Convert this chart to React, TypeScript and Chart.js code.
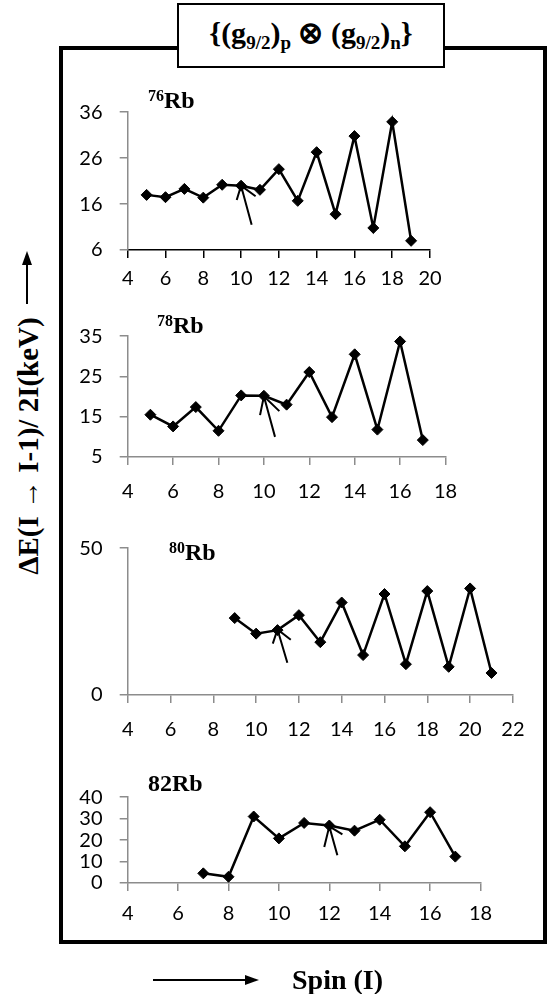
import React, { useEffect, useRef } from "react";
import { Chart, registerables } from "chart.js";

Chart.register(...registerables);

// ---------- DATA ----------
const spins76 = [5, 6, 7, 8, 9, 10, 11, 12, 13, 14, 15, 16, 17, 18, 19];
const rb76 = [18.0, 17.5, 19.3, 17.4, 20.2, 20.0, 19.1, 23.6, 16.7, 27.3, 13.8, 30.8, 10.8, 33.9, 8.0];
const yTicks76 = [6, 16, 26, 36];
const xTicks76 = [4, 6, 8, 10, 12, 14, 16, 18, 20];
const arrow76X = [9.77, 10.0, 10.77, 10.0, 10.56];
const arrow76Y = [16.9, 20.0, 17.7, 20.0, 11.5];

const spins78 = [5, 6, 7, 8, 9, 10, 11, 12, 13, 14, 15, 16, 17];
const rb78 = [15.5, 12.6, 17.4, 11.5, 20.3, 20.2, 18.0, 26.1, 14.9, 30.5, 11.8, 33.7, 9.2];
const yTicks78 = [5, 15, 25, 35];
const xTicks78 = [4, 6, 8, 10, 12, 14, 16, 18];
const arrow78X = [9.83, 10.0, 10.68, 10.0, 10.49];
const arrow78Y = [15.4, 20.1, 16.4, 20.1, 10.0];

const spins80 = [9, 10, 11, 12, 13, 14, 15, 16, 17, 18, 19, 20, 21];
const rb80 = [26.2, 20.9, 22.1, 27.2, 18.0, 31.5, 13.6, 34.4, 10.5, 35.4, 9.6, 36.3, 7.5];
const yTicks80 = [0, 50];
const xTicks80 = [4, 6, 8, 10, 12, 14, 16, 18, 20, 22];
const arrow80X = [10.78, 11.0, 11.62, 11.0, 11.46];
const arrow80Y = [17.5, 22.3, 18.8, 22.3, 11.0];

const spins82 = [7, 8, 9, 10, 11, 12, 13, 14, 15, 16, 17];
const rb82 = [4.5, 2.9, 31.0, 20.8, 28.0, 26.8, 24.4, 29.5, 17.1, 33.0, 12.3];
const yTicks82 = [0, 10, 20, 30, 40];
const xTicks82 = [4, 6, 8, 10, 12, 14, 16, 18];
const arrow82X = [11.8, 12.0, 12.52, 12.0, 12.32];
const arrow82Y = [16.8, 26.4, 22.7, 26.4, 12.9];

// ---------- LAYOUT ----------
type PanelDef = {
  spins: number[];
  values: number[];
  xTicks: number[];
  yTicks: number[];
  arrowX: number[];
  arrowY: number[];
  area: { left: number; right: number; top: number; bottom: number };
  labelGap: number;
  xColor: string;
};

const panels: PanelDef[] = [
  { spins: spins76, values: rb76, xTicks: xTicks76, yTicks: yTicks76, arrowX: arrow76X, arrowY: arrow76Y,
    area: { left: 127.7, right: 430, top: 96.7, bottom: 250 }, labelGap: 29, xColor: "#000" },
  { spins: spins78, values: rb78, xTicks: xTicks78, yTicks: yTicks78, arrowX: arrow78X, arrowY: arrow78Y,
    area: { left: 127.7, right: 445.5, top: 320.7, bottom: 456.7 }, labelGap: 35, xColor: "#8c8c8c" },
  { spins: spins80, values: rb80, xTicks: xTicks80, yTicks: yTicks80, arrowX: arrow80X, arrowY: arrow80Y,
    area: { left: 127.7, right: 512.9, top: 532.7, bottom: 695 }, labelGap: 35, xColor: "#8c8c8c" },
  { spins: spins82, values: rb82, xTicks: xTicks82, yTicks: yTicks82, arrowX: arrow82X, arrowY: arrow82Y,
    area: { left: 127.7, right: 480.5, top: 782.3, bottom: 883.3 }, labelGap: 31, xColor: "#8c8c8c" },
];

const CANVAS_LEFT = 64;
const CANVAS_RIGHT = 542;
const PAD_TOP = 14;
const X_AXIS_H = 52;
const TICK_LEN = 8;
const TICK_FONT = 20;
const Y_GRAY = "#8c8c8c";

function PanelChart({ p }: { p: PanelDef }) {
  const ref = useRef<HTMLCanvasElement>(null);
  const top = p.area.top - PAD_TOP;
  const W = CANVAS_RIGHT - CANVAS_LEFT;
  const H = p.area.bottom + X_AXIS_H - top;

  useEffect(() => {
    if (!ref.current) return;
    const xPad = p.labelGap - TICK_LEN - (TICK_FONT * 1.2) / 2;
    const chart = new Chart(ref.current, {
      type: "line",
      data: {
        datasets: [
          {
            data: p.spins.map((s, i) => ({ x: s, y: p.values[i] })),
            borderColor: "#000",
            backgroundColor: "#000",
            borderWidth: 2.5,
            pointStyle: "rectRot",
            pointRadius: 5.5,
            pointBorderWidth: 1,
            pointBackgroundColor: "#000",
            pointBorderColor: "#000",
            tension: 0,
            clip: false as any,
          },
          {
            data: p.arrowX.map((x, i) => ({ x, y: p.arrowY[i] })),
            borderColor: "#000",
            borderWidth: 2,
            pointRadius: 0,
            tension: 0,
            clip: false as any,
          },
        ],
      },
      options: {
        responsive: false,
        animation: false,
        devicePixelRatio: 1,
        events: [],
        layout: {
          padding: { top: PAD_TOP, right: CANVAS_RIGHT - p.area.right, left: 0, bottom: 0 },
        },
        plugins: { legend: { display: false }, tooltip: { enabled: false } },
        scales: {
          x: {
            type: "linear",
            min: p.xTicks[0],
            max: p.xTicks[p.xTicks.length - 1],
            afterBuildTicks: (s: any) => {
              s.ticks = p.xTicks.map((v) => ({ value: v }));
            },
            afterFit: (s: any) => {
              s.height = X_AXIS_H;
            },
            grid: { drawOnChartArea: false, drawTicks: true, tickLength: TICK_LEN, color: p.xColor, lineWidth: 1.5 },
            border: { display: true, color: p.xColor, width: 1.5 },
            ticks: {
              font: { family: "Lato", size: TICK_FONT },
              color: "#000",
              padding: xPad,
              maxRotation: 0,
              autoSkip: false,
            },
          },
          y: {
            type: "linear",
            min: p.yTicks[0],
            max: p.yTicks[p.yTicks.length - 1],
            afterBuildTicks: (s: any) => {
              s.ticks = p.yTicks.map((v) => ({ value: v }));
            },
            afterFit: (s: any) => {
              s.width = p.area.left - CANVAS_LEFT;
            },
            grid: { drawOnChartArea: false, drawTicks: true, tickLength: TICK_LEN, color: Y_GRAY, lineWidth: 1.5 },
            border: { display: true, color: Y_GRAY, width: 1.5 },
            ticks: {
              font: { family: "Lato", size: TICK_FONT },
              color: "#000",
              padding: p.area.left - TICK_LEN - 102.5,
              autoSkip: false,
            },
          },
        },
      } as any,
    });
    return () => chart.destroy();
  }, []);

  return (
    <canvas
      ref={ref}
      width={W}
      height={H}
      style={{ position: "absolute", left: CANVAS_LEFT, top, width: W, height: H }}
    />
  );
}

const serif = "'Liberation Serif', 'Times New Roman', serif";

function Iso({ mass, left, top, sup = true }: { mass: string; left: number; top: number; sup?: boolean }) {
  return (
    <div
      style={{
        position: "absolute",
        left,
        top,
        fontFamily: serif,
        fontWeight: "bold",
        fontSize: 24,
        lineHeight: "24px",
        whiteSpace: "nowrap",
        color: "#000",
      }}
    >
      {sup ? (
        <span style={{ fontSize: 16, position: "relative", top: -7 }}>{mass}</span>
      ) : (
        <span>{mass}</span>
      )}
      Rb
    </div>
  );
}

const subStyle: React.CSSProperties = { fontSize: 19, position: "relative", top: 6 };

export default function App() {
  return (
    <div style={{ position: "absolute", left: 0, top: 0, width: 548, height: 994, background: "#fff", overflow: "hidden" }}>
      {/* outer frame */}
      <div
        style={{
          position: "absolute",
          left: 59,
          top: 46,
          width: 488,
          height: 898,
          border: "4px solid #000",
          boxSizing: "border-box",
        }}
      />
      {panels.map((p, i) => (
        <PanelChart key={i} p={p} />
      ))}
      <Iso mass="76" left={148} top={88} />
      <Iso mass="78" left={157} top={313} />
      <Iso mass="80" left={169} top={540} />
      <Iso mass="82" left={148} top={771} sup={false} />

      {/* title box */}
      <div
        style={{
          position: "absolute",
          left: 177,
          top: 3,
          width: 268,
          height: 65,
          border: "2px solid #000",
          boxSizing: "border-box",
          background: "#fff",
          display: "flex",
          alignItems: "center",
          justifyContent: "center",
          fontFamily: serif,
          fontWeight: "bold",
          fontSize: 30,
          whiteSpace: "nowrap",
          color: "#000",
        }}
      >
        <span style={{ position: "relative", top: -3 }}>
          {"{(g"}
          <span style={subStyle}>9/2</span>
          {")"}
          <span style={subStyle}>p</span>
          {" \u2297 (g"}
          <span style={subStyle}>9/2</span>
          {")"}
          <span style={subStyle}>n</span>
          {"}"}
        </span>
      </div>

      {/* y label */}
      <div
        style={{
          position: "absolute",
          left: 28,
          top: 446,
          transform: "translate(-50%, -50%) rotate(-90deg)",
          fontFamily: serif,
          fontWeight: "bold",
          fontSize: 29,
          whiteSpace: "nowrap",
          color: "#000",
        }}
      >
        {"\u0394E(I \u2192 I-1)/ 2I(keV)"}
      </div>

      {/* arrows */}
      <svg width={548} height={994} style={{ position: "absolute", left: 0, top: 0, pointerEvents: "none" }}>
        <line x1={27} y1={304} x2={27} y2={262} stroke="#000" strokeWidth={2} />
        <polygon points="27,251 22,265 32,265" fill="#000" />
        <line x1={153} y1={980} x2={248} y2={980} stroke="#000" strokeWidth={2} />
        <polygon points="259,980 245,975 245,985" fill="#000" />
      </svg>

      <div
        style={{
          position: "absolute",
          left: 292,
          top: 980,
          transform: "translateY(-50%)",
          fontFamily: serif,
          fontWeight: "bold",
          fontSize: 28,
          whiteSpace: "nowrap",
          color: "#000",
        }}
      >
        Spin (I)
      </div>
    </div>
  );
}
